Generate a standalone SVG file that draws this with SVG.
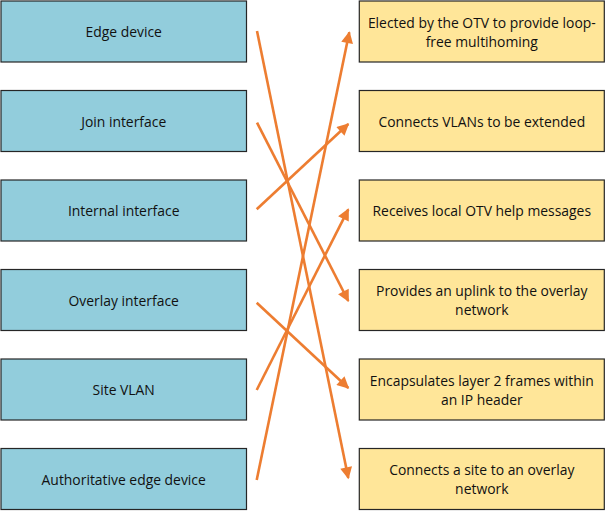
<svg xmlns="http://www.w3.org/2000/svg" width="607" height="511" viewBox="0 0 607 511">
<defs>
<style>
.l rect{fill:#92CDDC;stroke:#262626;stroke-width:1.2}
.r rect{fill:#FFE699;stroke:#262626;stroke-width:1.2}
text{font-family:"Open Sans","Liberation Sans",sans-serif;font-size:13.9px;fill:#111;text-anchor:middle}
#connectors line{stroke:#ED7D31;stroke-width:2.6;marker-end:url(#ah)}
</style>
<marker id="ah" viewBox="0 0 10 10" refX="9" refY="5" markerWidth="5.2" markerHeight="4.6" orient="auto" markerUnits="strokeWidth">
<path d="M0,0 L10,5 L0,10 z" fill="#ED7D31"/>
</marker>
</defs>
<rect width="607" height="511" fill="#fff"/>
<g id="n-edge" class="l"><rect x="1" y="1" width="245.5" height="61"/><text x="123.7" y="37">Edge device</text></g>
<g id="n-join" class="l"><rect x="1" y="90.5" width="245.5" height="61"/><text x="123.7" y="126.5">Join interface</text></g>
<g id="n-internal" class="l"><rect x="1" y="180" width="245.5" height="61"/><text x="123.7" y="216">Internal interface</text></g>
<g id="n-overlay" class="l"><rect x="1" y="269.5" width="245.5" height="61"/><text x="123.7" y="305.5">Overlay interface</text></g>
<g id="n-site" class="l"><rect x="1" y="359" width="245.5" height="61"/><text x="123.7" y="395">Site VLAN</text></g>
<g id="n-auth" class="l"><rect x="1" y="448.5" width="245.5" height="61"/><text x="123.7" y="484.5">Authoritative edge device</text></g>
<g id="d-elected" class="r"><rect x="359.3" y="1" width="245" height="61"/><text x="481.8" y="27.5">Elected by the OTV to provide loop-</text><text x="481.8" y="46.5">free multihoming</text></g>
<g id="d-vlans" class="r"><rect x="359.3" y="90.5" width="245" height="61"/><text x="481.8" y="126.5">Connects VLANs to be extended</text></g>
<g id="d-receives" class="r"><rect x="359.3" y="180" width="245" height="61"/><text x="481.8" y="216">Receives local OTV help messages</text></g>
<g id="d-uplink" class="r"><rect x="359.3" y="269.5" width="245" height="61"/><text x="481.8" y="296">Provides an uplink to the overlay</text><text x="481.8" y="315">network</text></g>
<g id="d-encap" class="r"><rect x="359.3" y="359" width="245" height="61"/><text x="481.8" y="385.5">Encapsulates layer 2 frames within</text><text x="481.8" y="404.5">an IP header</text></g>
<g id="d-site" class="r"><rect x="359.3" y="448.5" width="245" height="61"/><text x="481.8" y="475">Connects a site to an overlay</text><text x="481.8" y="494">network</text></g>
<g id="connectors">
<line x1="257" y1="31" x2="348.3" y2="478"/>
<line x1="257" y1="122.7" x2="348.3" y2="301"/>
<line x1="256.7" y1="209.3" x2="348.3" y2="124"/>
<line x1="256.7" y1="302.7" x2="348.3" y2="388"/>
<line x1="256.7" y1="390" x2="348.3" y2="209.3"/>
<line x1="256.7" y1="480" x2="349.3" y2="32.3"/>
</g>
</svg>
